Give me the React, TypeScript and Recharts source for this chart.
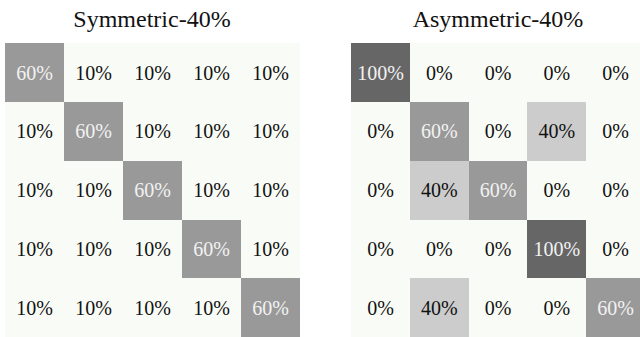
import React from 'react';
import { BarChart, Bar, XAxis, YAxis } from 'recharts';

// Confusion-style noise matrices (row = true class, column = noisy class), in percent
const symmetricRows = [
  [60, 10, 10, 10, 10],
  [10, 60, 10, 10, 10],
  [10, 10, 60, 10, 10],
  [10, 10, 10, 60, 10],
  [10, 10, 10, 10, 60],
];

const asymmetricRows = [
  [100, 0, 0, 0, 0],
  [0, 60, 0, 40, 0],
  [0, 40, 60, 0, 0],
  [0, 0, 0, 100, 0],
  [0, 40, 0, 0, 60],
];

const titles = ['Symmetric-40%', 'Asymmetric-40%'];

const FONT = '"Liberation Serif", "Times New Roman", serif';

const cellColor = (v: number) => {
  if (v >= 100) return '#666666';
  if (v >= 60) return '#999999';
  if (v >= 40) return '#cccccc';
  return '#f9fcf6';
};

// one entry per column; every row is stacked as a unit-height bar
const toColumns = (rows: number[][]) =>
  rows[0].map((_, j) => {
    const d: Record<string, number> = { col: j };
    rows.forEach((r, i) => {
      d[`r${i}`] = 1;
      d[`v${i}`] = r[j];
    });
    return d;
  });

const makeCell = (rowIdx: number) => (props: any) => {
  const { x, y, width, height, payload } = props;
  const v = payload[`v${rowIdx}`];
  const dark = v >= 60;
  // reversed y axis hands back negative heights
  const rx = Math.min(x, x + width);
  const ry = Math.min(y, y + height);
  const w = Math.abs(width);
  const h = Math.abs(height);
  return (
    <g>
      <rect x={rx} y={ry} width={w} height={h} fill={cellColor(v)} shapeRendering="crispEdges" />
      <text
        x={rx + w / 2}
        y={ry + h / 2}
        dy="0.35em"
        textAnchor="middle"
        fontFamily={FONT}
        fontSize={20}
        fill={dark ? '#f2f2f2' : '#111111'}
      >
        {v}%
      </text>
    </g>
  );
};

function Matrix({ rows, width, left }: { rows: number[][]; width: number; left: number }) {
  const data = toColumns(rows);
  return (
    <BarChart
      width={width}
      height={337}
      data={data}
      margin={{ top: 43.3, right: 0, bottom: 0, left }}
      barCategoryGap={0}
      barGap={0}
    >
      <XAxis dataKey="col" type="category" hide />
      <YAxis type="number" domain={[0, rows.length]} reversed hide />
      {rows.map((_, i) => (
        <Bar
          key={i}
          dataKey={`r${i}`}
          stackId="m"
          isAnimationActive={false}
          shape={makeCell(i)}
        />
      ))}
    </BarChart>
  );
}

export default function App() {
  return (
    <div style={{ position: 'absolute', left: 0, top: 0, width: 640, height: 337, overflow: 'hidden', background: '#fff' }}>
      <div style={{ position: 'absolute', left: 0, top: 0 }}>
        <Matrix rows={symmetricRows} width={300} left={5} />
      </div>
      <div style={{ position: 'absolute', left: 350.5, top: 0 }}>
        <Matrix rows={asymmetricRows} width={294} left={0} />
      </div>
      <svg width={640} height={40} style={{ position: 'absolute', left: 0, top: 0 }}>
        <text x={152} y={26.5} textAnchor="middle" fontFamily={FONT} fontSize={24} fill="#111">
          {titles[0]}
        </text>
        <text x={498} y={26.5} textAnchor="middle" fontFamily={FONT} fontSize={24} fill="#111">
          {titles[1]}
        </text>
      </svg>
    </div>
  );
}
